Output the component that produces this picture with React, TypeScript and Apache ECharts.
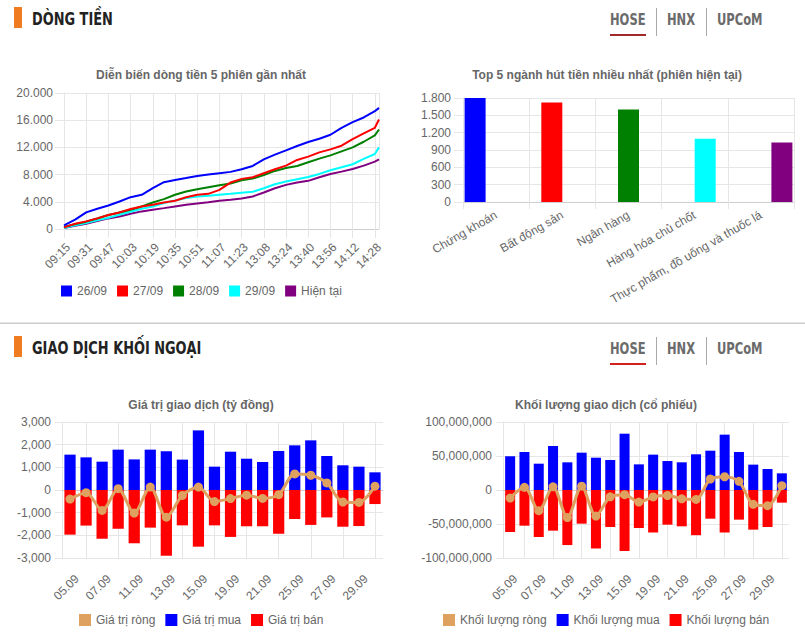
import React, { useEffect, useRef } from 'react';
import * as echarts from 'echarts';

const FONT = "'Liberation Sans', Arial, Helvetica, sans-serif";
const NARROW = "'Liberation Sans Narrow', 'Arial Narrow', 'DejaVu Sans Condensed', sans-serif";

// ---- Dòng tiền: 5 phiên gần nhất (minute index from 09:15, lunch removed)
const flowTickLabels = ['09:15', '09:31', '09:47', '10:03', '10:19', '10:35', '10:51', '11:07', '11:23', '13:08', '13:24', '13:40', '13:56', '14:12', '14:28'];
const flowMinutes = [0, 8, 16, 24, 32, 40, 48, 56, 64, 72, 80, 88, 96, 104, 112, 120, 128, 136, 144, 152, 160, 168, 176, 184, 192, 200, 208, 216, 224, 227];
const flowSessions = ['26/09', '27/09', '28/09', '29/09', 'Hiện tại'];
const flowColors = ['#0000ff', '#ff0000', '#008000', '#00ffff', '#800080'];
const flow2609 = [540, 1370, 2440, 2980, 3460, 4050, 4680, 5030, 6000, 6880, 7220, 7500, 7800, 8000, 8200, 8400, 8780, 9270, 10250, 10930, 11570, 12200, 12790, 13270, 13860, 14880, 15710, 16400, 17320, 17810];
const flow2709 = [240, 780, 1120, 1560, 2050, 2440, 2930, 3320, 3560, 3900, 4150, 4680, 5030, 5170, 5760, 6830, 7370, 7610, 8200, 8780, 9320, 10150, 10640, 11270, 11710, 12250, 13220, 14050, 14880, 16100];
const flow2809 = [290, 720, 1080, 1540, 2050, 2440, 2830, 3320, 3900, 4390, 5030, 5510, 5860, 6150, 6440, 6690, 7170, 7420, 7950, 8540, 8980, 9270, 9810, 10350, 10830, 11420, 12000, 12830, 13760, 14640];
const flow2909 = [150, 540, 880, 1270, 1660, 2100, 2540, 2980, 3320, 3810, 4200, 4540, 4780, 4880, 5030, 5170, 5320, 5470, 6000, 6590, 6980, 7320, 7660, 8100, 8640, 9080, 9520, 10300, 11030, 12000];
const flowToday = [150, 490, 780, 1170, 1560, 1850, 2240, 2590, 2830, 3070, 3320, 3560, 3760, 3950, 4150, 4290, 4490, 4780, 5370, 6000, 6490, 6830, 7080, 7610, 8100, 8440, 8830, 9320, 9910, 10250];
const flowSeries = [flow2609, flow2709, flow2809, flow2909, flowToday];

// ---- Top 5 ngành hút tiền
const sectors = ['Chứng khoán', 'Bất động sản', 'Ngân hàng', 'Hàng hóa chủ chốt', 'Thực phẩm, đồ uống và thuốc lá'];
const sectorInflow = [1800, 1720, 1600, 1095, 1030];
const sectorColors = ['#0000ff', '#ff0000', '#008000', '#00ffff', '#800080'];

// ---- Giao dịch khối ngoại
const foreignDates = ['31.08', '05.09', '06.09', '07.09', '08.09', '11.09', '12.09', '13.09', '14.09', '15.09', '18.09', '19.09', '20.09', '21.09', '22.09', '25.09', '26.09', '27.09', '28.09', '29.09'];
const valueBuy = [1560, 1440, 1250, 1780, 1350, 1780, 1710, 1340, 2630, 1030, 1690, 1380, 1235, 1720, 1970, 2190, 1500, 1090, 1030, 780];
const valueSell = [-1970, -1570, -2150, -1710, -2350, -1660, -2900, -1560, -2500, -1560, -2070, -1600, -1600, -1930, -1280, -1540, -1210, -1620, -1590, -620];
const valueNet = [-400, -120, -900, 60, -1015, 130, -1200, -240, 130, -510, -380, -230, -370, -205, 710, 650, 310, -530, -550, 170];
const volumeBuy = [49.5e6, 55.9e6, 38.7e6, 64.7e6, 40.7e6, 54.9e6, 47.5e6, 44.1e6, 82.8e6, 37.7e6, 52.0e6, 42.6e6, 40.7e6, 52.5e6, 57.8e6, 81.4e6, 55.9e6, 37.3e6, 30.9e6, 24.5e6];
const volumeSell = [-61.8e6, -52.5e6, -69.1e6, -59.8e6, -81.0e6, -49.5e6, -86.0e6, -54.4e6, -89.7e6, -55.9e6, -62.5e6, -51.0e6, -53.4e6, -66.5e6, -42.2e6, -62.5e6, -43.6e6, -58.3e6, -54.4e6, -18.6e6];
const volumeNet = [-11.8e6, 4.0e6, -30.4e6, 4.7e6, -40.5e6, 5.6e6, -38.3e6, -10.0e6, -6.9e6, -17.7e6, -10.2e6, -8.1e6, -13.0e6, -13.9e6, 16.2e6, 19.5e6, 12.8e6, -21.0e6, -23.0e6, 6.4e6];

const GRID = '#e6e6e6';
const AXIS = '#cfcfcf';
const NET = '#dfa15f';
const BLUE = '#0000ff';
const RED = '#ff0000';

const group3 = (v: number, sep: string) => {
  const s = String(Math.abs(v)).replace(/\B(?=(\d{3})+(?!\d))/g, sep);
  return v < 0 ? '-' + s : s;
};

const label = { color: '#666', fontSize: 12, fontFamily: FONT };
const titleStyle = { color: '#666', fontSize: 12, fontWeight: 'bold' as const, fontFamily: FONT };
const legendText = { color: '#666', fontSize: 12, fontFamily: FONT };
const oddOnly = (i: number) => i % 2 === 1;

function header(y: number, text: string, ulColor: string) {
  const tab = (t: string, x: number) => ({
    type: 'text', x, y: y + 19.5, scaleX: 0.8,
    style: { text: t, fill: '#6b6b6b', fontSize: 16, fontWeight: 'bold', fontFamily: NARROW, verticalAlign: 'middle', textVerticalAlign: 'middle' },
  });
  return [
    { type: 'rect', shape: { x: 14, y: y + 7, width: 8, height: 21 }, style: { fill: '#f07c22' } },
    { type: 'text', x: 32, y: y + 19, scaleX: 0.845, style: { text, fill: '#222', fontSize: 17, fontWeight: 'bold', fontFamily: NARROW, verticalAlign: 'middle', textVerticalAlign: 'middle' } },
    tab('HOSE', 610),
    tab('HNX', 667),
    tab('UPCoM', 717),
    { type: 'rect', shape: { x: 610, y: y + 34, width: 36, height: 2 }, style: { fill: ulColor } },
    { type: 'line', shape: { x1: 656.5, y1: y + 8, x2: 656.5, y2: y + 36 }, style: { stroke: '#aaa', lineWidth: 1 } },
    { type: 'line', shape: { x1: 706.5, y1: y + 8, x2: 706.5, y2: y + 36 }, style: { stroke: '#aaa', lineWidth: 1 } },
  ];
}

function buildOption() {
  const catAxisBottom = (gridIndex: number) => ({
    type: 'category', gridIndex, data: foreignDates, boundaryGap: true,
    axisLine: { lineStyle: { color: AXIS } },
    axisTick: { show: true, length: 7, interval: oddOnly, alignWithLabel: true, lineStyle: { color: GRID } },
    splitLine: { show: true, interval: oddOnly, alignWithLabel: true, lineStyle: { color: GRID } },
    axisLabel: { ...label, rotate: 45, interval: oddOnly, margin: 18, verticalAlign: 'bottom', padding: [0, 7, 0, 0] },
  });

  return {
    animation: false,
    backgroundColor: '#fff',
    textStyle: { fontFamily: FONT },
    title: [
      { text: 'Diễn biến dòng tiền 5 phiên gần nhất', left: 201, top: 69, textAlign: 'center', padding: 0, textStyle: titleStyle },
      { text: 'Top 5 ngành hút tiền nhiều nhất (phiên hiện tại)', left: 607, top: 69, textAlign: 'center', padding: 0, textStyle: titleStyle },
      { text: 'Giá trị giao dịch (tỷ đồng)', left: 201, top: 399, textAlign: 'center', padding: 0, textStyle: titleStyle },
      { text: 'Khối lượng giao dịch (cổ phiếu)', left: 606, top: 399, textAlign: 'center', padding: 0, textStyle: titleStyle },
    ],
    legend: [
      { data: flowSessions, left: 61, top: 285, padding: 0, icon: 'rect', itemWidth: 11, itemHeight: 11, itemGap: 10, textStyle: legendText },
      { data: ['Giá trị ròng', 'Giá trị mua', 'Giá trị bán'], left: 79, top: 614, padding: 0, icon: 'rect', itemWidth: 12, itemHeight: 12, itemGap: 10, textStyle: legendText },
      { data: ['Khối lượng ròng', 'Khối lượng mua', 'Khối lượng bán'], left: 443, top: 614, padding: 0, icon: 'rect', itemWidth: 12, itemHeight: 12, itemGap: 10, textStyle: legendText },
    ],
    grid: [
      { left: 64, top: 93, width: 315, height: 136 },
      { left: 463, top: 98, width: 331, height: 104 },
      { left: 62, top: 422, width: 321, height: 136 },
      { left: 503, top: 422, width: 286, height: 136 },
    ],
    xAxis: [
      {
        type: 'value', gridIndex: 0, min: 0, max: 227, interval: 16,
        axisLine: { show: true, lineStyle: { color: AXIS } },
        axisTick: { show: true, length: 9, lineStyle: { color: GRID } },
        splitLine: { show: true, lineStyle: { color: GRID } },
        axisLabel: { ...label, rotate: 45, margin: 12, verticalAlign: 'top', showMaxLabel: false, formatter: (v: number) => (v % 16 === 0 ? flowTickLabels[v / 16] ?? '' : '') },
      },
      {
        type: 'category', gridIndex: 1, data: sectors, boundaryGap: true,
        axisLine: { lineStyle: { color: AXIS } },
        axisTick: { show: true, length: 7, lineStyle: { color: GRID } },
        splitLine: { show: true, lineStyle: { color: GRID } },
        axisLabel: { ...label, rotate: 30, interval: 0, margin: 12 },
      },
      catAxisBottom(2),
      catAxisBottom(3),
    ],
    yAxis: [
      {
        type: 'value', gridIndex: 0, min: 0, max: 20000, interval: 4000,
        axisLine: { show: true, lineStyle: { color: GRID } },
        axisTick: { show: true, length: 9, lineStyle: { color: GRID } },
        splitLine: { lineStyle: { color: GRID } },
        axisLabel: { ...label, margin: 11, formatter: (v: number) => group3(v, '.') },
      },
      {
        type: 'value', gridIndex: 1, min: 0, max: 1800, interval: 300,
        axisLine: { show: true, lineStyle: { color: GRID } },
        axisTick: { show: true, length: 9, lineStyle: { color: GRID } },
        splitLine: { lineStyle: { color: GRID } },
        axisLabel: { ...label, margin: 12, formatter: (v: number) => group3(v, '.') },
      },
      {
        type: 'value', gridIndex: 2, min: -3000, max: 3000, interval: 1000,
        axisLine: { show: true, lineStyle: { color: GRID } },
        axisTick: { show: true, length: 7, lineStyle: { color: GRID } },
        splitLine: { lineStyle: { color: GRID } },
        axisLabel: { ...label, margin: 11, formatter: (v: number) => group3(v, ',') },
      },
      {
        type: 'value', gridIndex: 3, min: -100000000, max: 100000000, interval: 50000000,
        axisLine: { show: true, lineStyle: { color: GRID } },
        axisTick: { show: true, length: 7, lineStyle: { color: GRID } },
        splitLine: { lineStyle: { color: GRID } },
        axisLabel: { ...label, margin: 11, formatter: (v: number) => group3(v, ',') },
      },
    ],
    series: [
      ...flowSessions.map((name, k) => ({
        type: 'line', name, xAxisIndex: 0, yAxisIndex: 0,
        data: flowMinutes.map((m, i) => [m, flowSeries[k][i]]),
        showSymbol: false, symbol: 'none',
        lineStyle: { color: flowColors[k], width: 2 },
        itemStyle: { color: flowColors[k] },
        z: 10 - k,
      })),
      ...sectors.map((name, k) => ({
        type: 'bar', name, xAxisIndex: 1, yAxisIndex: 1,
        data: sectorInflow.map((v, i) => (i === k ? v : '-')),
        barWidth: 21, barGap: '-50%',
        itemStyle: { color: sectorColors[k] },
      })),
      {
        type: 'bar', name: 'Giá trị mua', xAxisIndex: 2, yAxisIndex: 2, data: valueBuy,
        barWidth: '70%', barGap: '-100%', itemStyle: { color: BLUE },
      },
      {
        type: 'bar', name: 'Giá trị bán', xAxisIndex: 2, yAxisIndex: 2, data: valueSell,
        barWidth: '70%', barGap: '-100%', itemStyle: { color: RED },
      },
      {
        type: 'line', name: 'Giá trị ròng', xAxisIndex: 2, yAxisIndex: 2, data: valueNet,
        smooth: 0.3, symbol: 'circle', symbolSize: 9, z: 5,
        lineStyle: { color: NET, width: 3 }, itemStyle: { color: NET },
      },
      {
        type: 'bar', name: 'Khối lượng mua', xAxisIndex: 3, yAxisIndex: 3, data: volumeBuy,
        barWidth: '70%', barGap: '-100%', itemStyle: { color: BLUE },
      },
      {
        type: 'bar', name: 'Khối lượng bán', xAxisIndex: 3, yAxisIndex: 3, data: volumeSell,
        barWidth: '70%', barGap: '-100%', itemStyle: { color: RED },
      },
      {
        type: 'line', name: 'Khối lượng ròng', xAxisIndex: 3, yAxisIndex: 3, data: volumeNet,
        smooth: 0.3, symbol: 'circle', symbolSize: 9, z: 5,
        lineStyle: { color: NET, width: 3 }, itemStyle: { color: NET },
      },
    ],
    graphic: [
      ...header(0, 'DÒNG TIỀN', '#a0292b'),
      { type: 'rect', shape: { x: 0, y: 322.5, width: 805, height: 1.5 }, style: { fill: '#cccccc' } },
      ...header(329, 'GIAO DỊCH KHỐI NGOẠI', '#d41f1f'),
    ],
  };
}

export default function App() {
  const ref = useRef<HTMLDivElement>(null);
  useEffect(() => {
    document.body.style.margin = '0';
    const chart = echarts.init(ref.current as HTMLDivElement, null, { renderer: 'svg' });
    chart.setOption(buildOption() as any);
    return () => chart.dispose();
  }, []);
  return <div ref={ref} style={{ position: 'absolute', left: 0, top: 0, width: 805, height: 639, background: '#fff' }} />;
}
